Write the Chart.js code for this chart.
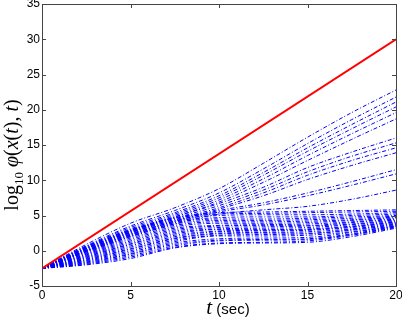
<!DOCTYPE html>
<html>
<head>
<meta charset="utf-8">
<script src="https://cdn.jsdelivr.net/npm/chart.js@4"></script>
<style>
  html, body { margin: 0; padding: 0; background: #fff; }
  #wrap { width: 402px; height: 319px; }
</style>
</head>
<body>
<div id="wrap"><canvas id="myChart" width="402" height="319"></canvas></div>
<script>
// time samples (sec)
const tVals = [0, 2.5, 5, 7.5, 10, 12.5, 15, 17.5, 20];

// red reference line
const redT = [0, 20];
const redVals = [-2.5, 30];

// upper fan of blue curves
const up1 = [-2.5, 0.9, 3.9, 6.1, 8.8, 12.4, 16.1, 19.6, 22.8];
const up2 = [-2.5, 0.7, 3.5, 5.7, 8.2, 11.6, 15.2, 18.6, 21.8];
const up3 = [-2.5, 0.6, 3.3, 5.4, 7.8, 11.1, 14.6, 17.9, 21.1];
const up4 = [-2.5, 0.5, 3.1, 5.2, 7.5, 10.7, 14.1, 17.3, 20.4];
const up5 = [-2.5, 0.4, 2.9, 5.0, 7.2, 10.2, 13.5, 16.6, 19.6];
const up6 = [-2.5, 0.3, 2.7, 4.8, 6.9, 9.7, 12.8, 15.8, 18.7];
// middle group
const mid1 = [-2.5, 0.3, 2.8, 4.8, 6.7, 9.0, 11.8, 14.0, 16.0];
const mid2 = [-2.5, 0.2, 2.6, 4.6, 6.4, 8.6, 11.2, 13.4, 15.3];
const mid3 = [-2.5, 0.1, 2.5, 4.4, 6.1, 8.2, 10.7, 12.8, 14.6];
const mid4 = [-2.5, 0.0, 2.3, 4.2, 5.9, 7.8, 10.1, 12.1, 13.9];
// lower risers
const low1 = [-2.5, 0.0, 2.3, 4.2, 5.7, 6.8, 8.2, 9.8, 11.5];
const low2 = [-2.5, -0.1, 2.1, 4.0, 5.5, 6.5, 7.8, 9.3, 10.9];
const low3 = [-2.5, -0.2, 2.0, 3.8, 5.2, 5.8, 6.3, 7.3, 8.6];
// dense band
const d01 = [-2.5, -2.0, -1.1, 0.4, 1.0, 1.1, 1.2, 2.0, 3.2];
const d02 = [-2.5, -1.9, -0.9, 0.5, 1.1, 1.2, 1.4, 2.2, 3.3];
const d03 = [-2.5, -1.8, -0.7, 0.7, 1.4, 1.5, 1.6, 2.3, 3.4];
const d04 = [-2.5, -1.7, -0.5, 0.9, 1.5, 1.6, 1.7, 2.4, 3.5];
const d05 = [-2.5, -1.6, -0.4, 1.1, 1.7, 1.8, 1.9, 2.6, 3.5];
const d06 = [-2.5, -1.5, -0.2, 1.3, 2.1, 2.1, 2.2, 2.7, 3.6];
const d07 = [-2.5, -1.4, 0.0, 1.5, 2.2, 2.3, 2.4, 2.9, 3.7];
const d08 = [-2.5, -1.3, 0.2, 1.7, 2.4, 2.5, 2.5, 3.0, 3.8];
const d09 = [-2.5, -1.2, 0.3, 1.8, 2.5, 2.6, 2.7, 3.1, 3.9];
const d10 = [-2.5, -1.1, 0.5, 2.0, 2.7, 2.8, 2.9, 3.3, 4.0];
const d11 = [-2.5, -1.0, 0.7, 2.2, 2.8, 2.9, 3.0, 3.4, 4.1];
const d12 = [-2.5, -0.9, 0.9, 2.4, 3.0, 3.0, 3.1, 3.5, 4.2];
const d13 = [-2.5, -0.8, 1.0, 2.6, 3.1, 3.2, 3.3, 3.7, 4.3];
const d14 = [-2.5, -0.7, 1.2, 2.8, 3.3, 3.4, 3.5, 3.8, 4.4];
const d15 = [-2.5, -0.6, 1.4, 3.0, 3.5, 3.6, 3.6, 4.0, 4.5];
const d16 = [-2.5, -0.5, 1.6, 3.2, 3.6, 3.7, 3.8, 4.1, 4.6];
const d17 = [-2.5, -0.4, 1.8, 3.4, 3.9, 3.9, 4.0, 4.3, 4.7];
const d18 = [-2.5, -0.3, 2.0, 3.6, 4.1, 4.1, 4.2, 4.4, 4.8];
const d19 = [-2.5, -0.1, 2.2, 3.8, 4.3, 4.3, 4.4, 4.6, 4.9];
const d20 = [-2.5, 0.0, 2.4, 4.0, 4.5, 4.5, 4.6, 4.8, 5.0];
const d21 = [-2.5, 0.1, 2.6, 4.2, 4.7, 4.8, 4.8, 5.0, 5.2];
const d22 = [-2.5, 0.3, 2.8, 4.4, 5.0, 5.1, 5.1, 5.2, 5.4];
const d23 = [-2.5, 0.4, 2.9, 4.6, 5.2, 5.3, 5.4, 5.5, 5.6];
const d24 = [-2.5, 0.6, 3.0, 4.7, 5.4, 5.5, 5.6, 5.7, 5.8];

const blueSeries = [up1, up2, up3, up4, up5, up6, mid1, mid2, mid3, mid4, low1, low2, low3,
  d01, d02, d03, d04, d05, d06, d07, d08, d09, d10, d11, d12,
  d13, d14, d15, d16, d17, d18, d19, d20, d21, d22, d23, d24];

// axis ticks
const xTicks = [0, 5, 10, 15, 20];
const yTicks = [-5, 0, 5, 10, 15, 20, 25, 30, 35];

const toPts = (xs, ys) => ys.map((v, i) => ({ x: xs[i], y: v }));

let datasets = [{
  data: toPts(redT, redVals),
  borderColor: 'rgb(255,0,0)',
  borderWidth: 2,
  pointRadius: 0,
  order: 0
}];
blueSeries.forEach((s) => {
  datasets.push({
    data: toPts(tVals, s),
    borderColor: 'rgb(0,0,255)',
    borderWidth: 1,
    borderDash: [4, 2, 1, 2],
    pointRadius: 0,
    cubicInterpolationMode: 'monotone',
    order: 1
  });
});

// box + inward ticks + axis titles (matlab look)
const matlabAxes = {
  id: 'matlabAxes',
  afterDraw(chart) {
    const c = chart.ctx, a = chart.chartArea;
    const xs = chart.scales.x, ys = chart.scales.y;
    c.save();
    c.strokeStyle = '#444';
    c.lineWidth = 1;
    c.strokeRect(Math.round(a.left) + 0.5, Math.round(a.top) + 0.5,
      Math.round(a.right - a.left), Math.round(a.bottom - a.top));
    c.beginPath();
    xTicks.forEach((v) => {
      const px = Math.round(xs.getPixelForValue(v)) + 0.5;
      c.moveTo(px, a.bottom); c.lineTo(px, a.bottom - 4);
      c.moveTo(px, a.top); c.lineTo(px, a.top + 4);
    });
    yTicks.forEach((v) => {
      const py = Math.round(ys.getPixelForValue(v)) + 0.5;
      c.moveTo(a.left, py); c.lineTo(a.left + 4, py);
      c.moveTo(a.right, py); c.lineTo(a.right - 4, py);
    });
    c.stroke();

    // y title: log10 φ(x(t), t)
    c.fillStyle = '#000';
    const fs = 20;
    const parts = [
      ['log', fs + 'px "Liberation Serif"', 0],
      ['10', (fs * 0.65) + 'px "Liberation Serif"', 5],
      [' ', fs + 'px "Liberation Serif"', 0],
      ['φ', 'italic ' + fs + 'px "Liberation Serif"', 0],
      ['(', fs + 'px "Liberation Serif"', 0],
      ['x', 'italic ' + fs + 'px "Liberation Serif"', 0],
      ['(', fs + 'px "Liberation Serif"', 0],
      ['t', 'italic ' + fs + 'px "Liberation Serif"', 0],
      ['),', fs + 'px "Liberation Serif"', 0],
      [' t', 'italic ' + fs + 'px "Liberation Serif"', 0],
      [')', fs + 'px "Liberation Serif"', 0]
    ];
    let w = 0;
    parts.forEach((p) => { c.font = p[1]; w += c.measureText(p[0]).width; });
    c.translate(18, 155);
    c.rotate(-Math.PI / 2);
    let cx = -w / 2;
    c.textBaseline = 'alphabetic';
    parts.forEach((p) => {
      c.font = p[1];
      c.fillText(p[0], cx, p[2]);
      cx += c.measureText(p[0]).width;
    });
    c.setTransform(1, 0, 0, 1, 0, 0);

    // x title: t (sec)
    c.font = 'italic 21px "Liberation Serif"';
    const w1 = c.measureText('t').width;
    c.font = '15px "Liberation Sans"';
    const w2 = c.measureText(' (sec)').width;
    let x0 = 228 - (w1 + w2) / 2;
    c.font = 'italic 21px "Liberation Serif"';
    c.fillText('t', x0, 314);
    c.font = '15px "Liberation Sans"';
    c.fillText(' (sec)', x0 + w1, 314);
    c.restore();
  }
};

const ctx = document.getElementById('myChart');

new Chart(ctx, {
  type: 'line',
  data: { datasets: datasets },
  options: {
    responsive: false,
    animation: false,
    events: [],
    layout: { padding: { top: 4, right: 6, left: 0, bottom: 0 } },
    plugins: { legend: { display: false }, tooltip: { enabled: false } },
    scales: {
      x: {
        type: 'linear', min: 0, max: 20,
        afterBuildTicks: (s) => { s.ticks = xTicks.map((v) => ({ value: v })); },
        afterFit: (s) => { s.height = 33; s.paddingLeft = 0; s.paddingRight = 0; },
        ticks: { font: { family: 'Liberation Sans', size: 12 }, color: '#000', padding: 2, maxRotation: 0 },
        grid: { drawOnChartArea: false, drawTicks: false },
        border: { display: false }
      },
      y: {
        min: -5, max: 35,
        afterBuildTicks: (s) => { s.ticks = yTicks.map((v) => ({ value: v })); },
        afterFit: (s) => { s.width = 42; s.paddingTop = 0; s.paddingBottom = 0; },
        ticks: { font: { family: 'Liberation Sans', size: 12 }, color: '#000', padding: 2 },
        grid: { drawOnChartArea: false, drawTicks: false },
        border: { display: false }
      }
    }
  },
  plugins: [matlabAxes]
});
</script>
</body>
</html>
